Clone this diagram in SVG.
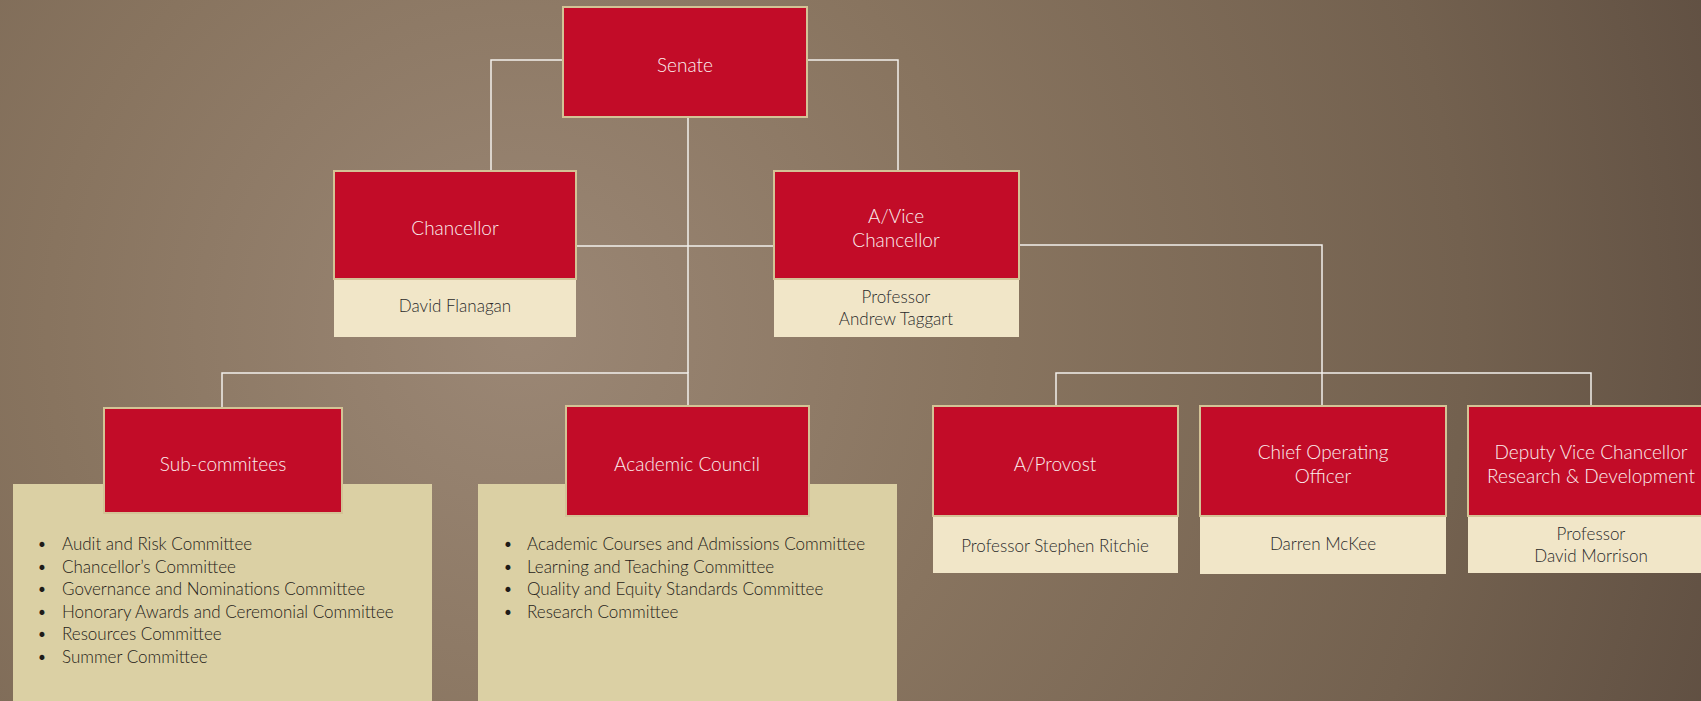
<svg xmlns="http://www.w3.org/2000/svg" width="1701" height="701" viewBox="0 0 1701 701">
<defs>
<radialGradient id="bg" gradientUnits="userSpaceOnUse" cx="520" cy="330" r="1350">
<stop offset="0" stop-color="#9b8775"/>
<stop offset="0.35" stop-color="#88745f"/>
<stop offset="0.7" stop-color="#73614f"/>
<stop offset="1" stop-color="#5a4a3e"/>
</radialGradient>
<style>
.red{fill:#c20c28;stroke:#d3c396;stroke-width:2}
.sub{fill:#f1e6c8}
.panel{fill:#dbd0a4}
.t{font-family:Lato,"Open Sans",sans-serif;font-size:19px;font-weight:300;fill:#fbeeee;text-anchor:middle}
.p{font-family:Lato,"Open Sans",sans-serif;font-size:17px;font-weight:300;fill:#2a2a2a;text-anchor:middle}
.l{font-family:Lato,"Open Sans",sans-serif;font-size:17px;font-weight:300;fill:#1f1c18}
.c{fill:none;stroke:#f2f0ec;stroke-width:1.5}
</style>
</defs>
<rect x="0" y="0" width="1701" height="701" fill="url(#bg)"/>
<g id="connectors">
<path class="c" d="M563 60 H491 V170"/>
<path class="c" d="M807 60 H898 V170"/>
<path class="c" d="M688 117 V373"/>
<path class="c" d="M576 246 H774"/>
<path class="c" d="M1019 245 H1322 V406"/>
<path class="c" d="M222 407 V373 H688 V405"/>
<path class="c" d="M1056 406 V373 H1591 V406"/>
</g>
<g id="senate">
<rect class="red" x="563" y="7" width="244" height="110"/>
<text class="t" x="685" y="72">Senate</text>
</g>
<g id="chancellor">
<rect class="sub" x="334" y="170" width="242" height="167"/>
<rect class="red" x="334" y="171" width="242" height="108"/>
<text class="t" x="455" y="235">Chancellor</text>
<text class="p" x="455" y="312">David Flanagan</text>
</g>
<g id="vice-chancellor">
<rect class="sub" x="774" y="170" width="245" height="167"/>
<rect class="red" x="774" y="171" width="245" height="108"/>
<text class="t" x="896" y="223">A/Vice</text>
<text class="t" x="896" y="247">Chancellor</text>
<text class="p" x="896" y="303">Professor</text>
<text class="p" x="896" y="325">Andrew Taggart</text>
</g>
<g id="sub-committees">
<rect class="panel" x="13" y="484" width="419" height="217"/>
<rect class="red" x="104" y="408" width="238" height="105"/>
<text class="t" x="223" y="471">Sub-commitees</text>
<text class="l" x="37" y="550">•</text><text class="l" x="62" y="550">Audit and Risk Committee</text>
<text class="l" x="37" y="572.5">•</text><text class="l" x="62" y="572.5">Chancellor’s Committee</text>
<text class="l" x="37" y="595">•</text><text class="l" x="62" y="595">Governance and Nominations Committee</text>
<text class="l" x="37" y="617.5">•</text><text class="l" x="62" y="617.5">Honorary Awards and Ceremonial Committee</text>
<text class="l" x="37" y="640">•</text><text class="l" x="62" y="640">Resources Committee</text>
<text class="l" x="37" y="662.5">•</text><text class="l" x="62" y="662.5">Summer Committee</text>
</g>
<g id="academic-council">
<rect class="panel" x="478" y="484" width="419" height="217"/>
<rect class="red" x="566" y="406" width="243" height="110"/>
<text class="t" x="687" y="471">Academic Council</text>
<text class="l" x="503" y="550">•</text><text class="l" x="527" y="550">Academic Courses and Admissions Committee</text>
<text class="l" x="503" y="572.5">•</text><text class="l" x="527" y="572.5">Learning and Teaching Committee</text>
<text class="l" x="503" y="595">•</text><text class="l" x="527" y="595">Quality and Equity Standards Committee</text>
<text class="l" x="503" y="617.5">•</text><text class="l" x="527" y="617.5">Research Committee</text>
</g>
<g id="provost">
<rect class="sub" x="933" y="406" width="245" height="167"/>
<rect class="red" x="933" y="406" width="245" height="110"/>
<text class="t" x="1055" y="471">A/Provost</text>
<text class="p" x="1055" y="552">Professor Stephen Ritchie</text>
</g>
<g id="coo">
<rect class="sub" x="1200" y="406" width="246" height="168"/>
<rect class="red" x="1200" y="406" width="246" height="110"/>
<text class="t" x="1323" y="459">Chief Operating</text>
<text class="t" x="1323" y="483">Officer</text>
<text class="p" x="1323" y="550">Darren McKee</text>
</g>
<g id="dvc">
<rect class="sub" x="1468" y="406" width="245" height="167"/>
<rect class="red" x="1468" y="406" width="245" height="110"/>
<text class="t" x="1591" y="459">Deputy Vice Chancellor</text>
<text class="t" x="1591" y="483">Research &amp; Development</text>
<text class="p" x="1591" y="540">Professor</text>
<text class="p" x="1591" y="562">David Morrison</text>
</g>
</svg>
